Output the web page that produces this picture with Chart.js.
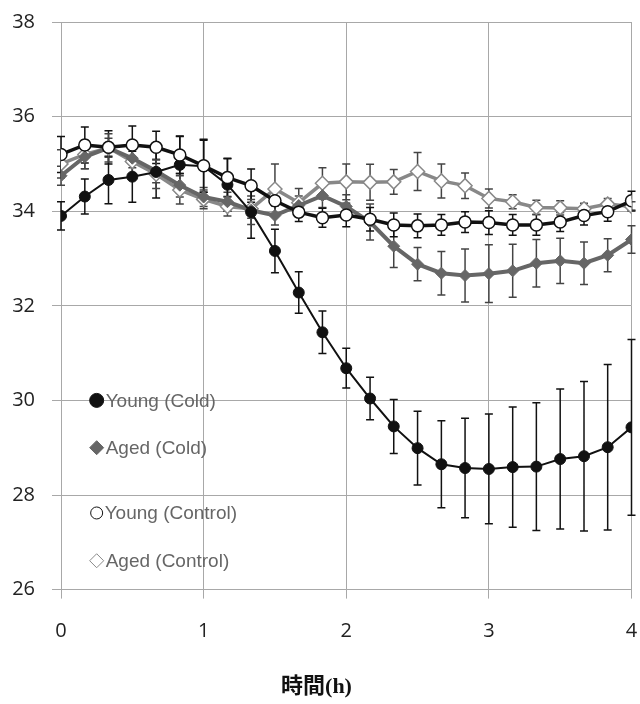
<!DOCTYPE html>
<html>
<head>
<meta charset="utf-8">
<script src="https://cdn.jsdelivr.net/npm/chart.js@4.4.0/dist/chart.umd.min.js"></script>
<style>
  html, body { margin: 0; padding: 0; background: #fff; }
  #wrap { width: 640px; height: 704px; }
</style>
</head>
<body>
<div id="wrap"><canvas id="myChart1"></canvas></div>
<script>
// 時間 (h), every 10 min
const times = [0, 0.167, 0.333, 0.5, 0.667, 0.833, 1, 1.167, 1.333, 1.5, 1.667, 1.833, 2,
  2.167, 2.333, 2.5, 2.667, 2.833, 3, 3.167, 3.333, 3.5, 3.667, 3.833, 4];

const youngCold = [33.9, 34.31, 34.66, 34.73, 34.83, 34.98, 34.95, 34.56, 33.98, 33.16, 32.28, 31.44, 30.68,
  30.04, 29.45, 28.99, 28.65, 28.57, 28.55, 28.59, 28.6, 28.76, 28.82, 29.01, 29.43];
const youngColdErr = [0.3, 0.37, 0.5, 0.54, 0.55, 0.6, 0.55, 0.56, 0.55, 0.46, 0.44, 0.45, 0.42,
  0.45, 0.57, 0.78, 0.92, 1.05, 1.16, 1.27, 1.35, 1.48, 1.58, 1.75, 1.86];

const agedCold = [34.75, 35.15, 35.34, 35.12, 34.85, 34.55, 34.3, 34.2, 34.02, 33.91, 34.12, 34.33, 34.1,
  33.77, 33.26, 32.88, 32.69, 32.64, 32.68, 32.74, 32.9, 32.95, 32.9, 33.07, 33.4];
const agedColdErr = [0.2, 0.25, 0.2, 0.2, 0.25, 0.25, 0.2, 0.2, 0.3, 0.2, 0.2, 0.25, 0.25,
  0.38, 0.45, 0.35, 0.46, 0.56, 0.61, 0.56, 0.5, 0.48, 0.45, 0.35, 0.29];

const youngControl = [35.2, 35.4, 35.35, 35.4, 35.35, 35.19, 34.96, 34.71, 34.54, 34.22, 33.98, 33.86, 33.92,
  33.83, 33.71, 33.69, 33.71, 33.77, 33.76, 33.71, 33.71, 33.77, 33.91, 33.99, 34.22];
const youngControlErr = [0.38, 0.38, 0.35, 0.4, 0.34, 0.4, 0.56, 0.4, 0.35, 0.3, 0.2, 0.2, 0.25,
  0.25, 0.25, 0.25, 0.22, 0.22, 0.25, 0.22, 0.22, 0.2, 0.2, 0.2, 0.2];

const agedControl = [35.0, 35.2, 35.34, 35.05, 34.78, 34.45, 34.25, 34.1, 34.05, 34.47, 34.18, 34.59, 34.62,
  34.61, 34.62, 34.84, 34.64, 34.54, 34.27, 34.2, 34.08, 34.07, 34.05, 34.15, 34.1];
const agedControlErr = [0.3, 0.3, 0.3, 0.3, 0.3, 0.3, 0.2, 0.2, 0.2, 0.53, 0.3, 0.33, 0.38,
  0.38, 0.26, 0.4, 0.36, 0.27, 0.2, 0.15, 0.15, 0.15, 0.12, 0.12, 0.1];

// legend spots, in data units (h, value)
const legendX = 0.25;
const legendY = [30, 29, 27.62, 26.61];

const pts = (vals) => vals.map((v, i) => ({ x: times[i], y: v }));

// vertical error bars, drawn under the markers
const errorBars = {
    id: 'errorBars',
    beforeDatasetsDraw(chart) {
        const { ctx, scales: { x, y } } = chart;
        chart.data.datasets.forEach((ds) => {
            ctx.save();
            ctx.strokeStyle = ds.errColor;
            ctx.lineWidth = 1.5;
            ctx.beginPath();
            ds.data.forEach((p, i) => {
                const px = x.getPixelForValue(p.x);
                const top = y.getPixelForValue(p.y + ds.errors[i]);
                const bot = y.getPixelForValue(p.y - ds.errors[i]);
                ctx.moveTo(px, top); ctx.lineTo(px, bot);
                ctx.moveTo(px - 4, top); ctx.lineTo(px + 4, top);
                ctx.moveTo(px - 4, bot); ctx.lineTo(px + 4, bot);
            });
            ctx.stroke();
            ctx.restore();
        });
    }
};

// legend sitting inside the plot, left side
const innerLegend = {
    id: 'innerLegend',
    afterDraw(chart) {
        const { ctx, scales: { x, y } } = chart;
        const px = x.getPixelForValue(legendX);
        chart.data.datasets.forEach((ds, i) => {
            const py = y.getPixelForValue(legendY[i]);
            ctx.save();
            ctx.fillStyle = ds.pointBackgroundColor;
            ctx.strokeStyle = ds.pointBorderColor;
            Chart.helpers.drawPoint(ctx, {
                pointStyle: ds.pointStyle,
                radius: ds.legendRadius,
                rotation: 0,
                borderWidth: ds.pointBorderWidth
            }, px, py);
            ctx.fillStyle = '#666';
            ctx.font = '19px "Liberation Sans", Arial, sans-serif';
            ctx.textBaseline = 'middle';
            ctx.textAlign = 'left';
            ctx.fillText(ds.label, px + ds.legendRadius + 2, py + 1);
            ctx.restore();
        });
    }
};

const ctx = document.getElementById('myChart1');
const myChart = new Chart(ctx, {
    type: 'line',
    data: {
        datasets: [
            {
                label: 'Young (Cold)',
                data: pts(youngCold),
                errors: youngColdErr,
                errColor: '#111',
                borderColor: '#111',
                borderWidth: 2,
                pointStyle: 'circle',
                pointRadius: 5.5,
                legendRadius: 7,
                pointBackgroundColor: '#111',
                pointBorderColor: '#111',
                pointBorderWidth: 1,
                order: 1
            },
            {
                label: 'Aged (Cold)',
                data: pts(agedCold),
                errors: agedColdErr,
                errColor: '#444',
                borderColor: '#666',
                borderWidth: 4,
                pointStyle: 'rectRot',
                pointRadius: 6,
                legendRadius: 7,
                pointBackgroundColor: '#666',
                pointBorderColor: '#666',
                pointBorderWidth: 1,
                order: 2
            },
            {
                label: 'Young (Control)',
                data: pts(youngControl),
                errors: youngControlErr,
                errColor: '#111',
                borderColor: '#111',
                borderWidth: 3.5,
                pointStyle: 'circle',
                pointRadius: 6,
                legendRadius: 6,
                pointBackgroundColor: '#fff',
                pointBorderColor: '#111',
                pointBorderWidth: 1.5,
                order: 0
            },
            {
                label: 'Aged (Control)',
                data: pts(agedControl),
                errors: agedControlErr,
                errColor: '#444',
                borderColor: '#888',
                borderWidth: 3.5,
                pointStyle: 'rectRot',
                pointRadius: 7,
                legendRadius: 7,
                pointBackgroundColor: '#fff',
                pointBorderColor: '#888',
                pointBorderWidth: 1.5,
                order: 3
            }
        ]
    },
    options: {
        maintainAspectRatio: false,
        responsive: true,
        animation: false,
        layout: { padding: { top: 22, right: 7, left: 0, bottom: 0 } },
        plugins: {
            legend: { display: false },
            tooltip: { enabled: false },
            title: {
                display: true,
                position: 'bottom',
                text: '時間(h)',
                color: '#111',
                font: { family: '"Liberation Serif", "Noto Sans CJK JP", serif', size: 22, weight: 'bold' },
                padding: { top: 0, bottom: 3 }
            }
        },
        scales: {
            x: {
                type: 'linear',
                min: 0,
                max: 4,
                afterFit: (s) => { s.height = 85; s.paddingLeft = 0; s.paddingRight = 0; },
                ticks: {
                    stepSize: 1,
                    padding: 21,
                    color: '#222',
                    font: { family: '"Open Sans", sans-serif', size: 20 }
                },
                grid: { color: '#a8a8a8', lineWidth: 1, tickLength: 9 },
                border: { color: '#a8a8a8' }
            },
            y: {
                min: 26,
                max: 38,
                afterFit: (s) => { s.width = 61; s.paddingTop = 0; s.paddingBottom = 0; },
                ticks: {
                    stepSize: 2,
                    padding: 17,
                    color: '#222',
                    font: { family: '"Open Sans", sans-serif', size: 20 }
                },
                grid: { color: '#a8a8a8', lineWidth: 1, tickLength: 9 },
                border: { color: '#a8a8a8' }
            }
        }
    },
    plugins: [errorBars, innerLegend]
});
</script>
</body>
</html>
